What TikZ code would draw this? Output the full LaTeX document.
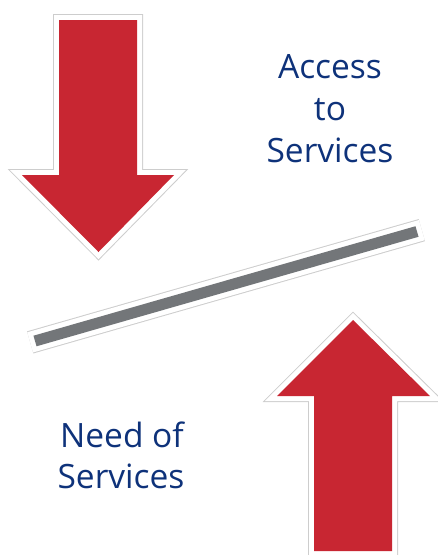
\documentclass[tikz,border=0pt]{standalone}
\usepackage{fontspec}
\setmainfont{Open Sans}
\usetikzlibrary{calc}
\definecolor{arrowred}{RGB}{200,38,50}
\definecolor{bargray}{RGB}{115,118,121}
\definecolor{edgegray}{RGB}{205,205,205}
\definecolor{textnavy}{RGB}{14,50,122}
\tikzset{
  halo/.style={draw=edgegray, line width=12pt, line join=miter, miter limit=20},
  haloin/.style={draw=white, line width=10pt, line join=miter, miter limit=20},
  redshape/.style={fill=arrowred},
  label/.style={text=textnavy, font=\fontsize{33.5}{42}\selectfont, anchor=base, inner sep=0pt},
}
\begin{document}
\begin{tikzpicture}[x=1pt,y=-1pt]
\useasboundingbox (0,0) rectangle (438,555);
% top arrow (down)
\def\downarrow{(59,20) -- (137,20) -- (137,175) -- (174,175) -- (98.5,252) -- (22,175) -- (59,175) -- cycle}
\path[halo] \downarrow;
\path[haloin] \downarrow;
\path[redshape] \downarrow;
% bottom arrow (up)
\def\uparrow{(314,551) -- (314,396) -- (277,396) -- (353,320) -- (430,396) -- (392,396) -- (392,551) -- cycle}
\path[halo] \uparrow;
\path[haloin] \uparrow;
\path[redshape] \uparrow;
% bar
\coordinate (bl) at (35,341);
\coordinate (br) at (417,231.5);
\coordinate (blo) at ($(bl)!-5pt!(br)$);
\coordinate (bro) at ($(br)!-5pt!(bl)$);
\draw[edgegray, line width=23pt] (blo) -- (bro);
\draw[white, line width=21pt] (blo) -- (bro);
\draw[bargray, line width=11pt] (bl) -- (br);
% texts
\node[label] (acc1) at (330,78) {Access};
\node[label] (acc2) at (330,120) {to};
\node[label] (acc3) at (330,162) {Services};
\node[label] (need1) at (122,447) {Need of};
\node[label] (need2) at (121,488) {Services};
\end{tikzpicture}
\end{document}
